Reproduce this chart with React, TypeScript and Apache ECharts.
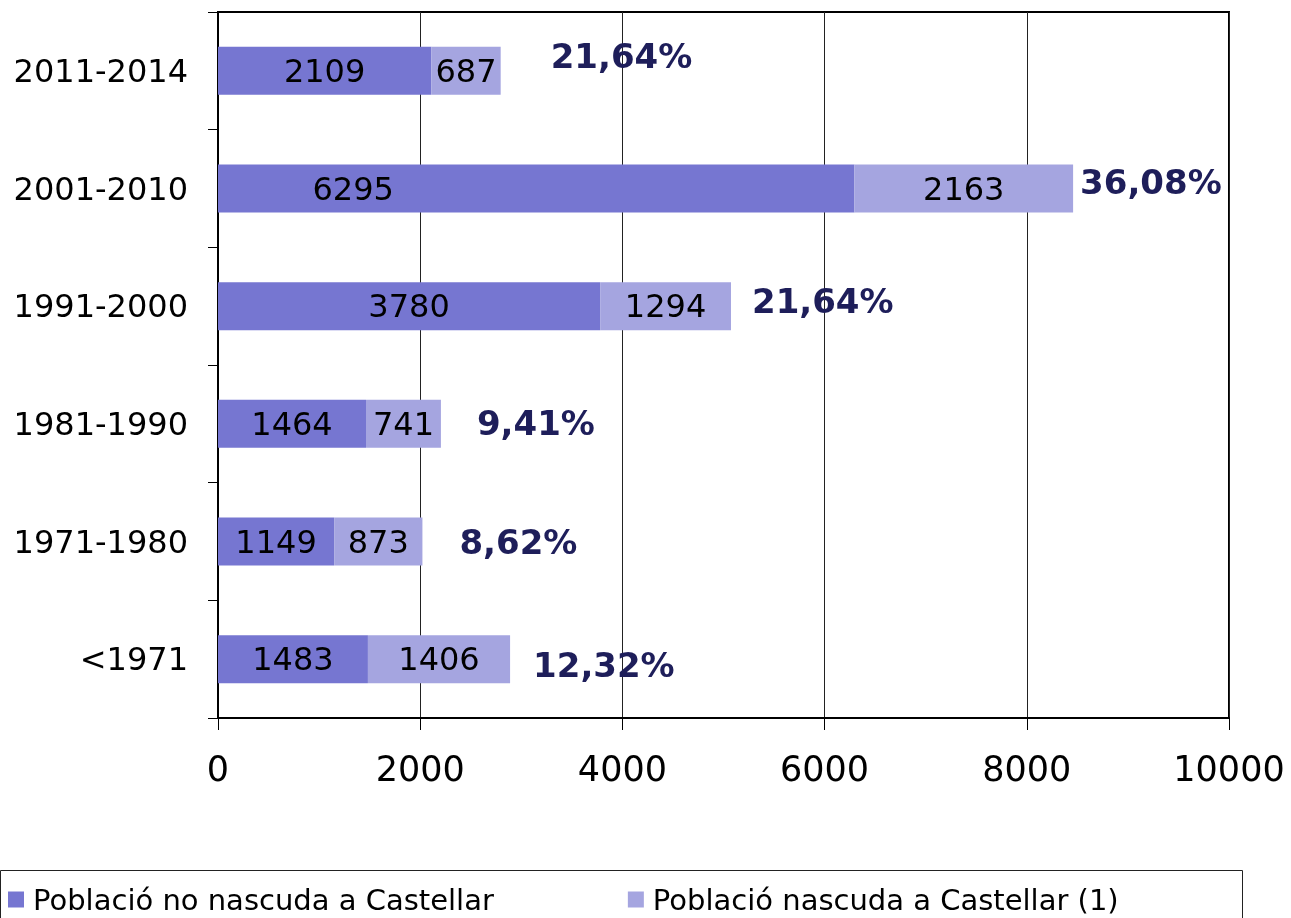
import React, { useEffect, useRef } from "react";
import * as echarts from "echarts";

const categories = ["<1971", "1971-1980", "1981-1990", "1991-2000", "2001-2010", "2011-2014"];
const notBorn = [1483, 1149, 1464, 3780, 6295, 2109];
const born = [1406, 873, 741, 1294, 2163, 687];
const percents = ["12,32%", "8,62%", "9,41%", "21,64%", "36,08%", "21,64%"];
const xTicks = { min: 0, max: 10000, interval: 2000 };
const seriesNames = ["Població no nascuda a Castellar", "Població nascuda a Castellar (1)"];

// label layout offsets (px) for the percentage labels
const pctOffsets: [number, number][] = [
  [23, 6],
  [37, 0],
  [36, -1],
  [21, -5],
  [7, -7],
  [50, -15],
];
// label layout offsets (px) for the first series' value labels
const notBornLabelOffsets: [number, number][] = [
  [0, 0],
  [0, 0],
  [0, 0],
  [0, 0],
  [-183, 0],
  [0, 0],
];

const FONT = "DejaVu Sans, Verdana, sans-serif";

export default function App() {
  const ref = useRef<HTMLDivElement>(null);
  useEffect(() => {
    if (!ref.current) return;
    const chart = echarts.init(ref.current, undefined, { renderer: "svg" });
    const totals = categories.map((_, i) => notBorn[i] + born[i]);
    chart.setOption({
      animation: false,
      textStyle: { fontFamily: FONT },
      grid: {
        left: 218,
        right: 62,
        top: 12,
        bottom: 200,
        show: true,
        borderColor: "#000",
        borderWidth: 2,
        backgroundColor: "#fff",
      },
      legend: {
        left: 8,
        top: 885,
        padding: 0,
        icon: "rect",
        itemWidth: 16,
        itemHeight: 16,
        itemGap: 134,
        textStyle: {
          fontSize: 29,
          lineHeight: 28,
          color: "#000",
          fontFamily: FONT,
          padding: [0, 0, 0, 4],
        },
        data: seriesNames,
      },
      xAxis: {
        type: "value",
        min: xTicks.min,
        max: xTicks.max,
        interval: xTicks.interval,
        axisLine: { show: true, lineStyle: { color: "#000", width: 2 } },
        axisTick: { show: true, length: 12, lineStyle: { color: "#000", width: 1 } },
        axisLabel: {
          fontSize: 35,
          color: "#000",
          margin: 33,
          fontFamily: FONT,
          formatter: (v: number) => String(v),
        },
        splitLine: { show: true, lineStyle: { color: "#222", width: 1 } },
      },
      yAxis: {
        type: "category",
        data: categories,
        axisLine: { show: true, lineStyle: { color: "#000", width: 2 } },
        axisTick: { show: true, length: 10, lineStyle: { color: "#000", width: 1 } },
        axisLabel: { fontSize: 32, color: "#000", margin: 30, fontFamily: FONT },
      },
      graphic: [
        {
          type: "rect",
          shape: { x: 0.5, y: 870.5, width: 1242, height: 80 },
          style: { fill: "none", stroke: "#222", lineWidth: 1 },
        },
      ],
      series: [
        {
          name: seriesNames[0],
          type: "bar",
          stack: "total",
          barWidth: 48,
          data: notBorn.map((v, i) => ({ value: v, label: { offset: notBornLabelOffsets[i] } })),
          itemStyle: { color: "#7676D1" },
          label: { show: true, position: "inside", fontSize: 32, color: "#000", fontFamily: FONT },
        },
        {
          name: seriesNames[1],
          type: "bar",
          stack: "total",
          barWidth: 48,
          data: born,
          itemStyle: { color: "#A5A5E0" },
          label: { show: true, position: "inside", fontSize: 32, color: "#000", fontFamily: FONT },
        },
        {
          name: "pct",
          type: "scatter",
          symbolSize: 0,
          silent: true,
          itemStyle: { opacity: 1 },
          data: categories.map((c, i) => ({
            value: [totals[i], c],
            label: { offset: pctOffsets[i] },
          })),
          label: {
            show: true,
            position: "right",
            distance: 0,
            fontSize: 34,
            fontWeight: "bold",
            color: "#1E1E5A",
            opacity: 1,
            fontFamily: FONT,
            formatter: (p: any) => percents[p.dataIndex],
          },
        },
      ],
    });
    return () => chart.dispose();
  }, []);
  return (
    <div
      ref={ref}
      style={{ position: "fixed", left: 0, top: 0, width: 1291, height: 918 }}
    />
  );
}
